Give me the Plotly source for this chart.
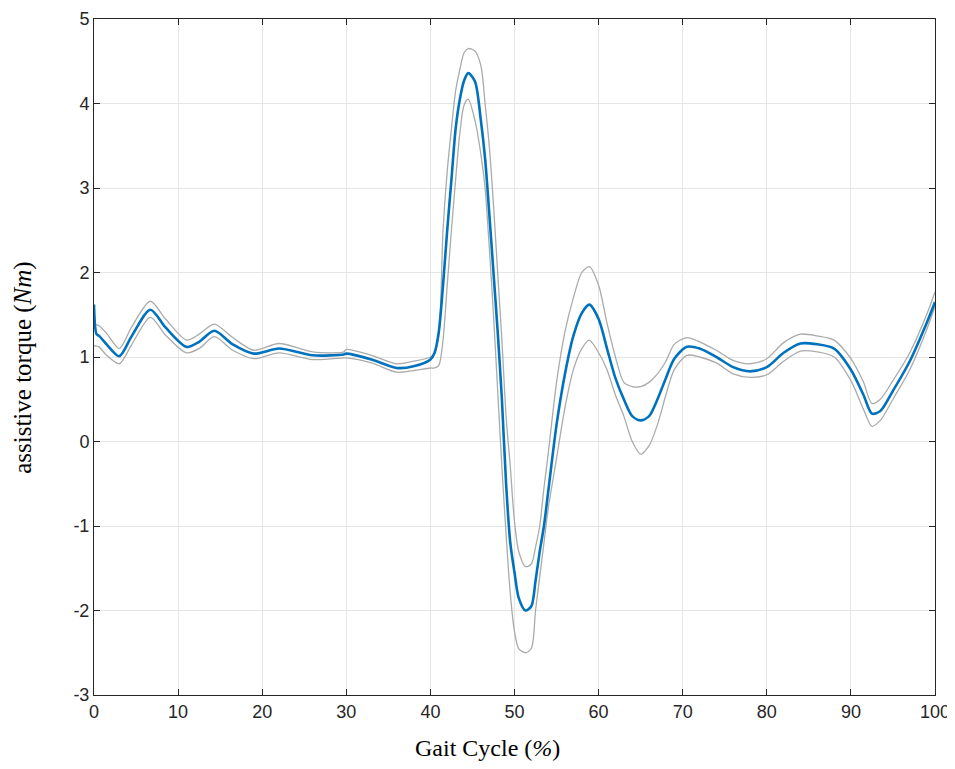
import plotly.graph_objects as go

gait = [0, 0.3, 0.6, 1.5, 3, 4.5, 6.7, 8.5, 11, 12.5, 14.3, 16.5, 19, 22, 26, 29.7, 30, 33, 36, 38,
        40, 40.5, 41, 41.5, 42, 42.5, 43, 43.5, 44, 44.5, 45.3, 46, 46.5, 47, 47.5, 48, 48.5, 49, 49.5,
        50, 50.5, 51.3, 52, 52.5, 53, 53.5, 54, 55, 56, 57, 58,
        58.9, 60, 61, 62, 63, 64, 65, 66, 67, 68, 69, 70.5, 72, 74, 76, 78, 80, 82, 84, 86, 88, 90, 91.5,
        92.5, 93.5, 95, 97, 99, 100]
torque_mean = [1.62, 1.27, 1.25, 1.15, 1.01, 1.25, 1.56, 1.35, 1.12, 1.18, 1.31, 1.15, 1.04, 1.10, 1.02, 1.03, 1.04, 0.97, 0.87, 0.89,
               0.97, 1.05, 1.3, 1.85, 2.5, 3.1, 3.7, 4.05, 4.27, 4.36, 4.26, 3.8, 3.35, 2.7, 2.0, 1.3, 0.5, -0.5, -1.2,
               -1.55, -1.85, -2.0, -1.95, -1.65, -1.3, -1.0, -0.6, 0.2, 0.8, 1.25, 1.52,
               1.62, 1.45, 1.1, 0.75, 0.5, 0.3, 0.25, 0.3, 0.5, 0.75, 0.98, 1.12, 1.1, 1.0, 0.88, 0.83, 0.88, 1.05, 1.16, 1.15, 1.1, 0.85, 0.55,
               0.33, 0.36, 0.6, 0.95, 1.4, 1.65]
torque_upper = [1.38, 1.38, 1.37, 1.28, 1.10, 1.36, 1.66, 1.45, 1.20, 1.27, 1.39, 1.23, 1.08, 1.16, 1.06, 1.06, 1.09, 1.02, 0.92, 0.95,
                1.0, 1.05, 1.25, 2.5, 3.2, 3.7, 4.15, 4.4, 4.6, 4.65, 4.62, 4.45, 4.0, 3.5, 2.8, 2.0, 1.2, 0.3, -0.3,
                -0.95, -1.3, -1.48, -1.45, -1.25, -1.0, -0.55, -0.15, 0.7, 1.3, 1.7, 2.0,
                2.07, 1.85, 1.4, 1.0, 0.7, 0.65, 0.65, 0.7, 0.8, 0.95, 1.15, 1.23, 1.18, 1.08, 0.96, 0.92, 0.98, 1.17, 1.27, 1.25, 1.2, 0.98, 0.7,
                0.45, 0.5, 0.72, 1.05, 1.5, 1.77]
torque_lower = [1.13, 1.13, 1.12, 1.02, 0.92, 1.15, 1.47, 1.26, 1.05, 1.10, 1.24, 1.08, 0.98, 1.05, 0.97, 0.99, 0.99, 0.93, 0.82, 0.84,
                0.87, 0.87, 0.9, 1.2, 1.85, 2.5, 3.1, 3.65, 3.98, 4.05, 3.8, 3.4, 3.0, 2.3, 1.5, 0.6, -0.3, -1.1, -1.8,
                -2.25, -2.45, -2.5, -2.45, -2.0, -1.6, -1.2, -0.8, -0.2, 0.4, 0.85, 1.1,
                1.2, 1.05, 0.85, 0.55, 0.3, 0.0, -0.15, -0.05, 0.2, 0.55, 0.85, 1.02, 1.0, 0.93, 0.8, 0.76, 0.79, 0.95, 1.07, 1.06, 1.0, 0.72, 0.38,
                0.18, 0.25, 0.5, 0.85, 1.32, 1.6]

x_ticks = list(range(0, 101, 10))
x_labels = [str(v) for v in x_ticks]
y_ticks = list(range(-3, 6))
y_labels = [str(v) for v in y_ticks]

fig = go.Figure()
for band in (torque_upper, torque_lower):
    fig.add_trace(go.Scatter(x=gait, y=band, mode="lines",
                             line=dict(color="#ababab", width=1.3, shape="spline", smoothing=0.8),
                             showlegend=False, hoverinfo="skip"))
fig.add_trace(go.Scatter(x=gait, y=torque_mean, mode="lines",
                         line=dict(color="#0072BD", width=2.6, shape="spline", smoothing=0.8),
                         showlegend=False))

axis_common = dict(showline=True, linecolor="#262626", linewidth=1, mirror="ticks",
                   ticks="inside", ticklen=6, tickcolor="#262626", automargin=False,
                   showgrid=True, gridcolor="#e6e6e6", gridwidth=1, zeroline=False,
                   tickfont=dict(family="Liberation Sans Narrow, Liberation Sans", size=18, color="#262626"))

title_font = dict(family="Liberation Serif", size=24, color="#000")

fig.update_layout(
    width=955, height=769,
    margin=dict(l=86, r=28, t=11, b=82, autoexpand=False),
    plot_bgcolor="white", paper_bgcolor="white",
    xaxis=dict(range=[0, 100], tickvals=x_ticks, ticktext=x_labels, **axis_common),
    yaxis=dict(range=[-3, 5], tickvals=y_ticks, ticktext=y_labels, **axis_common),
    annotations=[
        dict(text="Gait Cycle (<i>%</i>)", xref="paper", yref="paper", x=0.468, y=0,
             xanchor="center", yanchor="middle", yshift=-53, showarrow=False, font=title_font),
        dict(text="assistive torque (<i>Nm</i>)", xref="paper", yref="paper", x=0, y=0.484,
             xanchor="center", yanchor="middle", xshift=-71, textangle=-90, showarrow=False,
             font=dict(family="Liberation Serif", size=25, color="#000")),
    ],
)

fig.write_html("out.html")
